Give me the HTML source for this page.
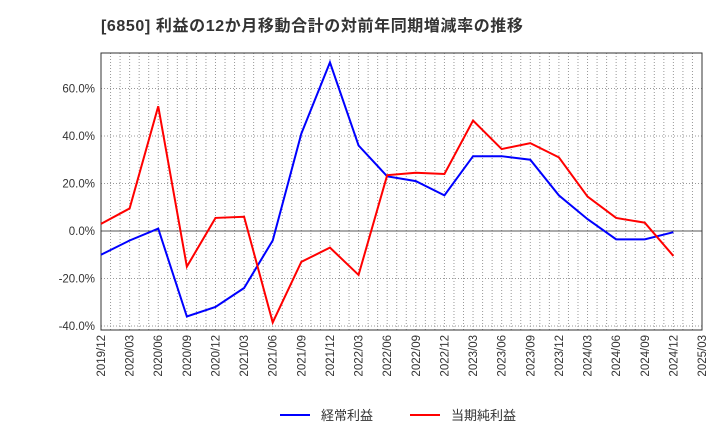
<!DOCTYPE html>
<html><head><meta charset="utf-8"><style>
body{margin:0;background:#fff;}
svg text{font-family:"Liberation Sans","Noto Sans CJK JP",sans-serif;fill:#333;}
</style></head><body>
<svg id="chart" width="720" height="440" xmlns="http://www.w3.org/2000/svg">
<text x="101" y="31" font-size="16" font-weight="bold" letter-spacing="0.6">[6850]  利益の12か月移動合計の対前年同期増減率の推移</text>
<g id="grid"></g><g id="axes"></g><g id="series"></g>
<g>
<line x1="280" y1="415" x2="310" y2="415" stroke="#0000ff" stroke-width="2"/>
<text x="321" y="420" font-size="13">経常利益</text>
<line x1="410" y1="415" x2="440" y2="415" stroke="#ff0000" stroke-width="2"/>
<text x="451" y="420" font-size="13">当期純利益</text>
</g>
</svg>
<script>
const categories=["2019/12","2020/03","2020/06","2020/09","2020/12","2021/03","2021/06","2021/09","2021/12","2022/03","2022/06","2022/09","2022/12","2023/03","2023/06","2023/09","2023/12","2024/03","2024/06","2024/09","2024/12"];
const tickLabels=["2019/12","2020/03","2020/06","2020/09","2020/12","2021/03","2021/06","2021/09","2021/12","2022/03","2022/06","2022/09","2022/12","2023/03","2023/06","2023/09","2023/12","2024/03","2024/06","2024/09","2024/12","2025/03"];
const keijo=[-10,-4,1,-36,-32,-24,-4,41,71,36,23,21,15,31.5,31.5,30,15,5,-3.5,-3.5,-0.5];
const junrieki=[3,9.5,52.5,-15,5.5,6,-38.5,-13,-7,-18.5,23.5,24.5,24,46.5,34.5,37,31,14.5,5.5,3.5,-10.5];
const yTicks=[60,40,20,0,-20,-40];
const L=101,R=702,T=53,B=330;
const step=(R-L)/21;
const x=i=>L+i*step;
const y=v=>231-v*47.5/20;
const ns="http://www.w3.org/2000/svg";
function mk(tag,attrs,parent){const e=document.createElementNS(ns,tag);for(const k in attrs)e.setAttribute(k,attrs[k]);document.getElementById(parent).appendChild(e);return e;}
for(let m=1;m<63;m++){const xx=L+m*step/3;
const g=mk('line',{x1:xx,x2:xx,y1:T,y2:B,stroke:'#999','stroke-dasharray':'1,2','stroke-width':1},'grid');

}
yTicks.forEach(v=>{const yy=y(v);
const g=mk('line',{x1:L,x2:R,y1:yy,y2:yy,stroke:v===0?'#555':'#999','stroke-dasharray':v===0?'':'1,2','stroke-width':1},'grid');


const t=mk('text',{x:L-6,y:yy+4,'text-anchor':'end','font-size':11.5},'axes');


t.textContent=v.toFixed(1)+'%';});
const fr=mk('rect',{x:L,y:T,width:R-L,height:B-T,fill:'none',stroke:'#333','stroke-width':1},'axes');


tickLabels.forEach((s,i)=>{const xx=x(i);
const t=mk('text',{x:0,y:0,'text-anchor':'end','font-size':11.5,transform:`translate(${xx+4},${B+5}) rotate(-90)`},'axes');


t.textContent=s;});
[[keijo,'#0000ff','keijo-line'],[junrieki,'#ff0000','junrieki-line']].forEach(([d,c,n])=>{
const p=mk('polyline',{points:d.map((v,i)=>x(i)+','+y(v)).join(' '),fill:'none',stroke:c,'stroke-width':2},'series');

});
</script>
</body></html>
